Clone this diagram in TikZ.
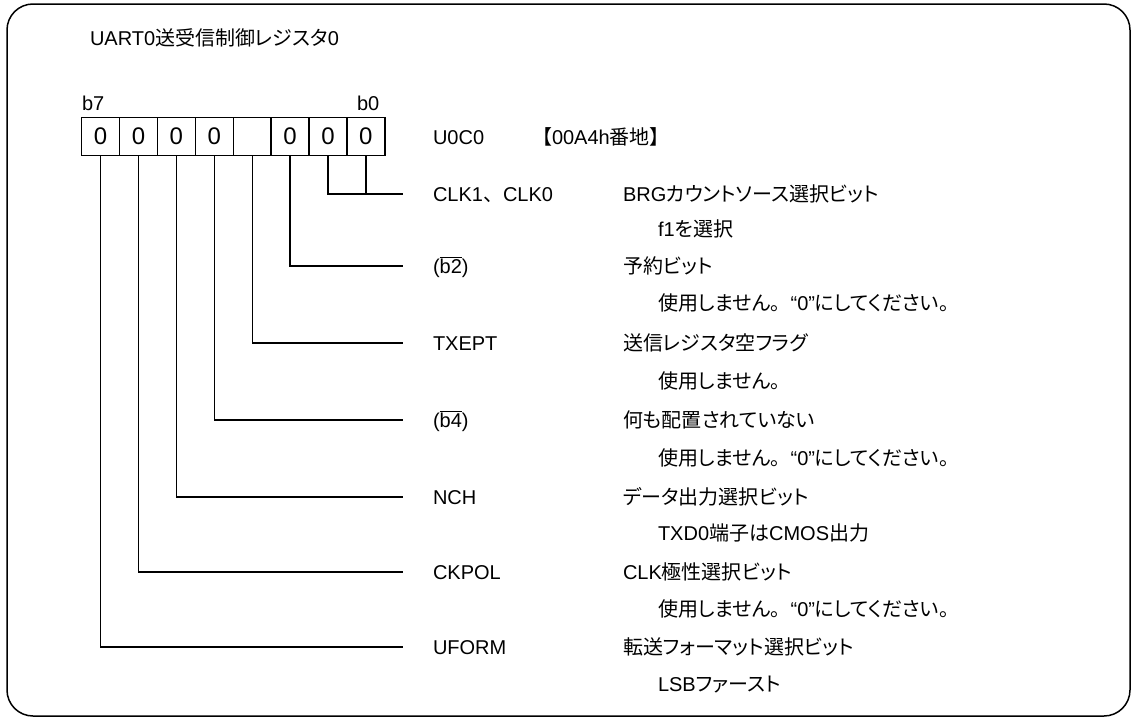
\documentclass[tikz,border=0pt]{standalone}
\usepackage{fontspec}
\setmainfont{Liberation Sans}
\newfontfamily\jpfont[RawFeature=+palt]{Noto Sans CJK JP}
\newfontfamily\jpfull{Noto Sans CJK JP}
\newcommand{\J}[1]{{\jpfont #1}}
\newcommand{\JF}[1]{{\jpfull #1}}
\tikzset{
  txt/.style={inner sep=0pt, outer sep=0pt, anchor=base west, font=\fontsize{20}{22}\selectfont},
  regbox/.style={draw, line width=1.4pt, minimum width=37.9pt, minimum height=38.4pt, inner sep=0pt, font=\fontsize{24}{26}\selectfont},
  wire/.style={line width=1.4pt},
  frame/.style={line width=1.5pt, rounded corners=26pt}
}
\begin{document}
\begin{tikzpicture}[x=1pt,y=-1pt]
\useasboundingbox (0,0) rectangle (1133,720);
\draw[frame] (7,4) rectangle (1130,716);

\node[txt] (title) at (90,45) {UART0\J{送受信制御レジスタ}0};
\node[txt] (b7) at (82,110) {b7};
\node[txt] (b0) at (357,110) {b0};

\foreach \b/\v in {7/0,6/0,5/0,4/0,3/,2/0,1/0,0/0}{
  \node[regbox] (r\b) at ({100.6+37.9*(7-\b)},136.5) {\v};
}

\node[txt] (reg) at (433,144) {U0C0};
\node[txt] (addr) at (542,144) {\J{【}00A4h\J{番地】}};

% connector end coordinates
\coordinate (e0) at (403,194);
\coordinate (e2) at (403,266);
\coordinate (e3) at (403,343);
\coordinate (e4) at (403,420);
\coordinate (e5) at (403,497);
\coordinate (e6) at (403,572);
\coordinate (e7) at (403,647);

\draw[wire] (r1.south) |- (e0);
\draw[wire] (r0.south) -- (r0.south |- e0);
\draw[wire] (r2.south) |- (e2);
\draw[wire] (r3.south) |- (e3);
\draw[wire] (r4.south) |- (e4);
\draw[wire] (r5.south) |- (e5);
\draw[wire] (r6.south) |- (e6);
\draw[wire] (r7.south) |- (e7);

% names
\node[txt] (n0) at (433,201) {CLK1\JF{、}CLK0};
\node[txt] (n2) at (433,273) {($\overline{\hbox{b2}}$)};
\node[txt] (n3) at (433,350) {TXEPT};
\node[txt] (n4) at (433,427) {($\overline{\hbox{b4}}$)};
\node[txt] (n5) at (433,504) {NCH};
\node[txt] (n6) at (433,579) {CKPOL};
\node[txt] (n7) at (433,654) {UFORM};

% descriptions
\node[txt] (d0) at (623,201) {BRG\J{カウントソース選択ビット}};
\node[txt] (s0) at (658,236) {f1\J{を選択}};
\node[txt] (d2) at (623,273) {\J{予約ビット}};
\node[txt] (s2) at (658,310) {\J{使用しません}\JF{。}“0”\J{にしてください}\JF{。}};
\node[txt] (d3) at (623,350) {\J{送信レジスタ空フラグ}};
\node[txt] (s3) at (658,388) {\J{使用しません}\JF{。}};
\node[txt] (d4) at (623,427) {\J{何も配置されていない}};
\node[txt] (s4) at (658,465) {\J{使用しません}\JF{。}“0”\J{にしてください}\JF{。}};
\node[txt] (d5) at (623,504) {\J{データ出力選択ビット}};
\node[txt] (s5) at (658,540) {TXD0\J{端子は}CMOS\J{出力}};
\node[txt] (d6) at (623,579) {CLK\J{極性選択ビット}};
\node[txt] (s6) at (658,616) {\J{使用しません}\JF{。}“0”\J{にしてください}\JF{。}};
\node[txt] (d7) at (623,654) {\J{転送フォーマット選択ビット}};
\node[txt] (s7) at (658,691) {LSB\J{ファースト}};
\end{tikzpicture}
\end{document}
